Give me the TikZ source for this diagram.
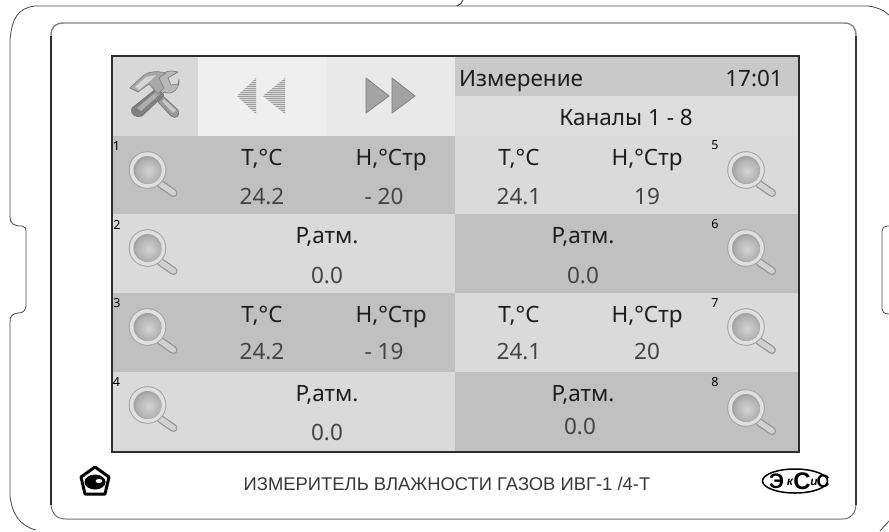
\documentclass[tikz,border=0pt]{standalone}
\usepackage{fontspec}
\setmainfont{Noto Sans}
\newfontfamily\capfont{Liberation Sans}
\newfontfamily\logofont{Liberation Sans}
\usetikzlibrary{shapes.geometric}
\definecolor{rowdark}{HTML}{C0C0C0}
\definecolor{rowlight}{HTML}{DADADA}
\definecolor{headdark}{HTML}{C9C9C9}
\definecolor{headlight}{HTML}{DDDDDD}
\definecolor{toolcell}{HTML}{D8D8D8}
\definecolor{arrowl}{HTML}{EFEFEF}
\definecolor{arrowr}{HTML}{E9E9E9}
\definecolor{valtext}{HTML}{444444}
\definecolor{labtext}{HTML}{1E1E1E}
\tikzset{
  casing/.style={draw=black!72,line width=0.8pt,line join=round},
  lab/.style={font=\fontsize{22.5}{22.5}\selectfont,text=labtext,inner sep=0pt,anchor=base},
  val/.style={font=\fontsize{22.5}{22.5}\selectfont,text=valtext,inner sep=0pt,anchor=base},
  num/.style={font=\bfseries\fontsize{12.5}{12.5}\selectfont,text=black,inner sep=0pt,anchor=center},
  logo/.style={inner sep=0pt,text=black,anchor=center},
}
\newcommand{\magnif}[2]{%
  \begin{scope}[shift={(#1,#2)}]
    \draw[line width=8pt,line cap=round,color=black!42] (13,14) -- (26,23);
    \draw[line width=5.5pt,line cap=round,color=black!18] (13,14) -- (26,23);
    \fill[black!36] (0,0) circle (18.8);
    \fill[black!12] (0,0) circle (17.8);
    \fill[black!36] (0,0) circle (14);
    \shade[inner color=black!17,outer color=black!32] (1,1) circle (13);
  \end{scope}}
\begin{document}
\begin{tikzpicture}[x=1pt,y=-1pt]
\useasboundingbox (0,0) rectangle (889,531);
\fill[white] (0,0) rectangle (889,531);
% outer casing
\draw[casing] (457,6) -- (35,6) .. controls (18,8) and (12,18) .. (10,40) -- (10,216)
  .. controls (10,224) and (14,226) .. (22,226) .. controls (25,226) and (26,228) .. (26,232)
  -- (26,304) .. controls (26,311) and (23,313) .. (18,313) .. controls (12,314) and (10,316) .. (10,322)
  -- (10,496) .. controls (12,514) and (20,526) .. (36,530);
\draw[casing,line width=1pt] (457,6) .. controls (460,5) and (462,3) .. (463,0);
\draw[casing] (457,6) -- (868,6) .. controls (876,7) and (884,10) .. (889,15);
\draw[casing] (889,226) -- (887,226) .. controls (884,226) and (882,228) .. (882,231) -- (882,309)
  .. controls (882,312) and (884,314) .. (889,314);
\draw[casing] (880,531) -- (889,521);
% inner panel
\draw[draw=black!48,line width=1.4pt] (51,36) .. controls (51,27) and (55,23) .. (64,23) -- (844,23)
  .. controls (852,23) and (856,27) .. (856,36);
\draw[draw=black!82,line width=1.2pt] (51,36) -- (51,505);
\draw[draw=black!78,line width=1.2pt] (856,36) -- (856,505);
\draw[draw=black!55,line width=1pt] (51,505) .. controls (52,514) and (57,519) .. (66,519) -- (842,519)
  .. controls (851,519) and (855,514) .. (856,505);
% screen cells
\fill[toolcell] (113,57) rectangle (198,136);
\fill[arrowl] (198,57) rectangle (326,136);
\fill[arrowr] (326,57) rectangle (455,136);
\fill[headdark] (455,57) rectangle (798,96);
\fill[headlight] (455,96) rectangle (798,136);
\fill[rowdark] (113,136) rectangle (455,214);
\fill[rowlight] (113,214) rectangle (455,293);
\fill[rowdark] (113,293) rectangle (455,372);
\fill[rowlight] (113,372) rectangle (455,451);
\fill[rowlight] (455,136) rectangle (798,214);
\fill[rowdark] (455,214) rectangle (798,293);
\fill[rowlight] (455,293) rectangle (798,372);
\fill[rowdark] (455,372) rectangle (798,451);
\draw[draw=black!82,line width=2pt] (111.5,55.5) rectangle (799,451.5);
% tools icon
\begin{scope}[line join=round]
  % wrench handle
  \fill[black!40,draw=black!52,line width=0.7pt] (158,102) -- (163,96) -- (178,110)
     .. controls (181,115) and (176,120) .. (171,116) -- cycle;
  \fill[black!22] (162,101) -- (164,99) -- (176,110) -- (173,113) -- cycle;
  % wrench head
  \fill[black!28,draw=black!50,line width=0.7pt] (152,94) -- (159,87) .. controls (155,78) and (162,71) .. (172,71)
     -- (178,72) -- (168,78) -- (171,85) -- (178,84) -- (179,79)
     .. controls (180,88) and (173,96) .. (164,92) -- (158,100) -- cycle;
  % hammer handle
  \fill[black!50,draw=black!55,line width=0.7pt] (132,108) -- (157,88) -- (164,95) -- (142,116)
     .. controls (136,118) and (130,115) .. (132,108) -- cycle;
  \fill[black!32] (137,108) -- (157,91) -- (160,94) -- (141,111) -- cycle;
  % hammer head
  \fill[black!34,draw=black!50,line width=0.7pt] (130,88) -- (144,75) .. controls (150,71) and (158,71) .. (166,73)
     -- (159,78) -- (164,88) -- (158,94) -- (149,84) -- (138,92) -- cycle;
  \fill[black!16] (135,87) -- (146,77) -- (156,75) -- (150,81) -- (139,90) -- cycle;
\end{scope}
% rewind arrows
\begin{scope}
  \clip (237,96) -- (256,78) -- (256,114) -- cycle (263,96) -- (285,78) -- (285,114) -- cycle;
  \fill[black!15] (230,70) rectangle (290,120);
  \foreach \yy in {78,80,...,114} \draw[black!38,line width=0.9pt] (230,\yy) -- (290,\yy);
\end{scope}
\foreach \xx/\ww in {366/23,392/23}{
  \fill[black!36,draw=black!50,line width=0.8pt,line join=round] (\xx,78) -- (\xx+\ww,96) -- (\xx,113) -- cycle;
}
% magnifiers
\magnif{147.5}{170}\magnif{147.5}{248}\magnif{147.5}{327}\magnif{147.5}{405}
\magnif{746}{170}\magnif{746}{248}\magnif{746}{327}\magnif{746}{408}
% numbers
\node[num] (n1) at (116.5,146) {1};
\node[num] (n2) at (117,225) {2};
\node[num] (n3) at (117,303) {3};
\node[num] (n4) at (116.5,382) {4};
\node[num] (n5) at (715,145) {5};
\node[num] (n6) at (715,224) {6};
\node[num] (n7) at (715,303) {7};
\node[num] (n8) at (715,382) {8};
% header
\node[lab,anchor=base west] (hdr) at (459,86) {Измерение};
\node[lab,anchor=base east] (clock) at (783,86) {17:01};
\node[lab] (chan) at (626,125) {Каналы 1 - 8};
% row 1
\node[lab] (t1) at (262,165) {T,°C};
\node[lab] (h1) at (391,165) {Н,°Стр};
\node[val] (v1a) at (262,204) {24.2};
\node[val] (v1b) at (384,204) {- 20};
\node[lab] (t5) at (519,165) {T,°C};
\node[lab] (h5) at (647,165) {Н,°Стр};
\node[val] (v5a) at (519,204) {24.1};
\node[val] (v5b) at (647,204) {19};
% row 2
\node[lab] (p2) at (327,243) {Р,атм.};
\node[val] (v2) at (327,283) {0.0};
\node[lab] (p6) at (583,243) {Р,атм.};
\node[val] (v6) at (583,283) {0.0};
% row 3
\node[lab] (t3) at (262,322) {T,°C};
\node[lab] (h3) at (391,322) {Н,°Стр};
\node[val] (v3a) at (262,359) {24.2};
\node[val] (v3b) at (384,359) {- 19};
\node[lab] (t7) at (519,322) {T,°C};
\node[lab] (h7) at (647,322) {Н,°Стр};
\node[val] (v7a) at (519,359) {24.1};
\node[val] (v7b) at (647,359) {20};
% row 4
\node[lab] (p4) at (327,401) {Р,атм.};
\node[val] (v4) at (327,440) {0.0};
\node[lab] (p8) at (583,401) {Р,атм.};
\node[val] (v8) at (580,434) {0.0};
% caption
\node[inner sep=0pt,anchor=base,text=black!78,font=\capfont\fontsize{18.4}{18.4}\selectfont] (cap) at (447,490)
  {ИЗМЕРИТЕЛЬ ВЛАЖНОСТИ ГАЗОВ ИВГ-1 /4-Т};
% standard mark
\draw[black,line width=3pt,line join=round] (95,467) -- (109,477) -- (105,494) -- (85,494) -- (81,477) -- cycle;
\fill[black] (95,482) ellipse (10.5 and 7.5);
\fill[white] (99,481) ellipse (3.5 and 2);
% company logo
\draw[black,line width=1.5pt] (795,481) ellipse (32.5 and 12);
\node[logo,font=\logofont\bfseries\fontsize{21}{21}\selectfont] (l1) at (776.5,481) {Э};
\node[logo,font=\logofont\bfseries\itshape\fontsize{12}{12}\selectfont] (l2) at (790,482) {к};
\node[logo,font=\logofont\bfseries\fontsize{24}{24}\selectfont] (l3) at (802,481) {С};
\node[logo,font=\logofont\bfseries\itshape\fontsize{12}{12}\selectfont] (l4) at (814,482) {и};
\node[logo,font=\logofont\bfseries\fontsize{18}{18}\selectfont] (l5) at (823,481) {С};
\end{tikzpicture}
\end{document}
